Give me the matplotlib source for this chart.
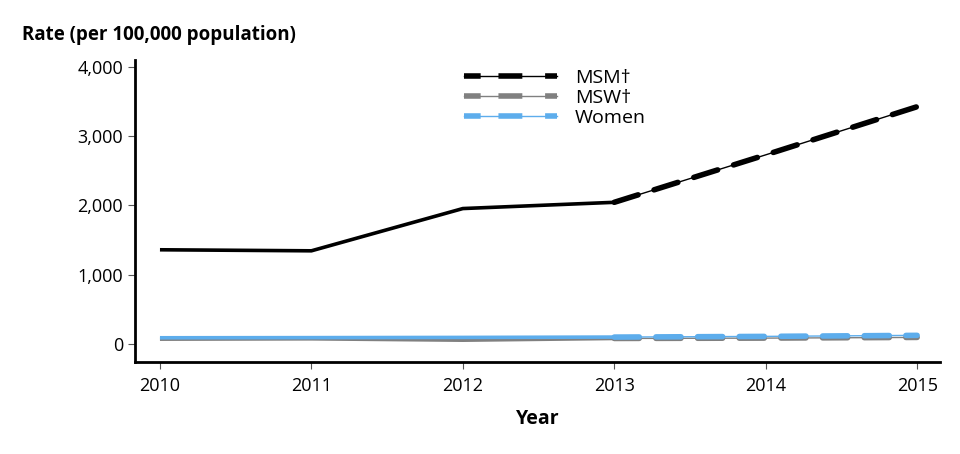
import matplotlib
matplotlib.use('Agg')
import matplotlib.pyplot as plt
from matplotlib.lines import Line2D

plt.rcParams['font.family'] = ['Open Sans', 'DejaVu Sans']

# Data
years = [2010, 2011, 2012, 2013, 2014, 2015]
msm = [1360, 1345, 1955, 2045, 2730, 3425]
msw = [70, 75, 55, 80, 85, 95]
women = [90, 92, 95, 100, 110, 125]
labels = ['MSM\u2020', 'MSW\u2020', 'Women']
colors = ['#000000', '#808080', '#5DADEC']
split = 3  # index of 2013: solid before, dashed projection after

fig = plt.figure(figsize=(9.6, 4.54), dpi=100)
ax = fig.add_axes([0.1406, 0.2026, 0.8384, 0.6654])

handles = []
for series, col in zip([msm, msw, women], colors):
    ax.plot(years[:split + 1], series[:split + 1], color=col, lw=2.6,
            solid_capstyle='butt', zorder=3)
    ax.plot(years[split:], series[split:], color=col, lw=1.0, zorder=3)
    ax.plot(years[split:], series[split:], color=col, lw=4.0,
            dashes=(4.5, 3), dash_capstyle='round', zorder=3)
    thin = Line2D([], [], color=col, lw=1.0)
    thick = Line2D([], [], color=col, lw=4.0, dashes=(3, 3.2, 4.3, 4.1, 2.2, 10))
    handles.append((thin, thick))

ax.set_xlim(2009.835, 2015.15)
ax.set_ylim(-260, 4100)
ax.set_xticks(years)
ax.set_yticks([0, 1000, 2000, 3000, 4000])
ax.set_yticklabels(['0', '1,000', '2,000', '3,000', '4,000'])
ax.tick_params(axis='both', labelsize=13, length=5, width=0.8, color='#555555')
ax.tick_params(axis='x', pad=6)

for s in ['top', 'right']:
    ax.spines[s].set_visible(False)
for s in ['left', 'bottom']:
    ax.spines[s].set_linewidth(2)

ax.set_xlabel('Year', fontsize=14, fontweight='bold', labelpad=10)
fig.text(0.023, 0.922, 'Rate (per 100,000 population)', fontsize=13.5,
         fontweight='bold', ha='left', va='center')

ax.legend(handles, labels, loc='upper left', bbox_to_anchor=(0.392, 1.015),
          frameon=False, fontsize=14, handlelength=4.8, labelspacing=0.1,
          handletextpad=0.9, borderpad=0.2)

fig.savefig('out.png', dpi=100)
